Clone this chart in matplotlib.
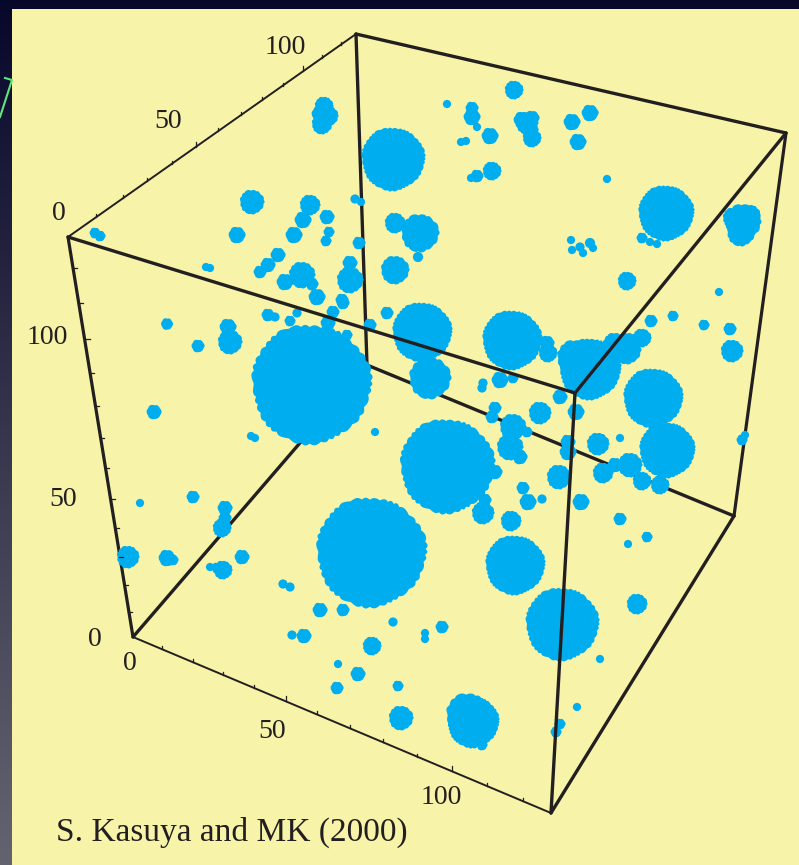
import matplotlib
matplotlib.use("Agg")
import matplotlib.pyplot as plt
import numpy as np
from matplotlib.path import Path

WIDTH, HEIGHT = 799, 865
DPI = 100

# cube corners, in image pixels
back_left = (68, 237)
back_top = (356, 34)
right_top = (786, 133)
front_top = (575, 393)
bottom_left = (133, 637)
bottom_front = (551, 813)
bottom_right = (734, 516)
hidden = (367, 365)

# tick positions along the three labelled edges
depth_tick_x = [96, 123, 147, 172, 196, 218, 241, 262, 283, 303, 322, 341]
depth_tick_y = [217, 198, 181, 164, 147, 131, 115, 100, 86, 71, 58, 45]
depth_major = [196, 303]
height_tick_x = [73, 79, 85, 90, 95, 100, 105, 110, 115, 119, 124, 128]
height_tick_y = [268, 303, 339, 373, 406, 438, 468, 499, 528, 557, 585, 612]
height_major = [339, 499]
width_tick_x = [162, 193, 223, 254, 286, 317, 350, 383, 417, 452, 487, 523]
width_tick_y = [649, 662, 675, 688, 701, 714, 728, 742, 757, 771, 786, 801]
width_major = [286, 452]

tick_labels = ["100", "50", "0", "100", "50", "0", "0", "50", "100"]
tick_label_x = [285, 168, 59, 47, 63, 95, 130, 272, 441]
tick_label_y = [47, 122, 213, 338, 500, 639, 664, 732, 797]
credit = "S. Kasuya and MK (2000)"

# lumps: centre and radius
blob_x = [95, 100, 324, 322, 328, 252, 237, 206, 210, 310, 303, 327, 294, 329, 326,
          355, 361, 359, 278, 268, 260, 302, 285, 312, 350, 350, 317, 342, 395, 395,
          420, 393, 398, 514, 447, 472, 472, 477, 490, 461, 466, 527, 522, 532, 532,
          572, 590, 578, 492, 477, 471, 607, 666, 642, 650, 657, 743, 741, 571, 572,
          580, 590, 593, 583, 627, 719, 418, 167, 228, 230, 198, 154, 268, 275, 290,
          297, 333, 328, 347, 343, 370, 311, 387, 251, 255, 375, 140, 193, 225, 225,
          222, 128, 167, 173, 242, 223, 210, 217, 283, 290, 371, 422, 430, 512, 548,
          547, 500, 513, 483, 482, 590, 627, 642, 651, 673, 704, 730, 732, 560, 576,
          540, 495, 492, 513, 510, 520, 527, 598, 620, 568, 568, 653, 667, 630, 615,
          603, 642, 660, 559, 742, 745, 447, 495, 483, 485, 523, 528, 542, 511, 515,
          581, 620, 647, 628, 637, 562, 600, 442, 425, 425, 320, 343, 292, 304, 372,
          338, 358, 337, 393, 398, 401, 473, 468, 482, 482, 560, 556, 577,
          320, 628, 615, 750, 733, 575, 530]
blob_y = [233, 236, 106, 124, 116, 202, 235, 267, 268, 205, 220, 217, 235, 232, 241,
          199, 202, 243, 255, 265, 272, 275, 282, 284, 263, 280, 297, 300, 270, 223,
          233, 159, 270, 90, 104, 108, 117, 127, 136, 142, 141, 123, 120, 118, 138,
          122, 113, 142, 171, 176, 178, 179, 213, 238, 242, 244, 222, 232, 240, 250,
          247, 243, 248, 253, 281, 292, 257, 324, 327, 342, 346, 412, 315, 317, 321,
          313, 312, 323, 335, 303, 325, 384, 313, 436, 438, 432, 503, 497, 508, 518,
          528, 557, 558, 560, 557, 570, 567, 568, 584, 587, 552, 332, 378, 340, 353,
          343, 380, 378, 383, 388, 369, 350, 338, 321, 316, 325, 329, 351, 397, 412,
          413, 408, 417, 427, 447, 457, 432, 444, 438, 442, 452, 398, 450, 465, 465,
          473, 481, 485, 477, 440, 435, 466, 472, 513, 500, 488, 502, 499, 521, 565,
          502, 519, 537, 544, 604, 624, 659, 627, 633, 639, 610, 610, 635, 636, 646,
          664, 674, 688, 622, 686, 718, 722, 715, 745, 738, 724, 732, 707,
          114, 345, 345, 215, 218, 358, 130]
blob_r = [5, 5, 9, 10, 10, 12, 8, 3.5, 3.5, 10, 8, 7, 8, 5, 5,
          4, 3.5, 6, 7, 7, 6, 13, 8, 6, 7, 13, 8, 6, 14, 10,
          19, 32, 8, 9, 3.5, 6, 8, 3.5, 8, 3.5, 3.5, 11, 8, 7, 9,
          8, 8, 8, 9, 6, 3.5, 3.5, 28, 5, 3.5, 3.5, 18, 14, 3.5, 3.5,
          4, 4.5, 3.5, 3.5, 9, 3.5, 4.5, 5.5, 8, 12, 6, 7, 6, 4, 5,
          4, 6, 7, 5, 6, 6, 61, 6, 3.5, 3.5, 3.5, 3.5, 6, 7, 6,
          9, 11, 8, 5, 7, 9, 3.5, 5, 4, 4, 56, 30, 21, 30, 9,
          7, 8, 5, 4, 4, 31, 14, 9, 6, 5, 5, 6, 11, 7, 8,
          11, 6, 6, 13, 13, 7, 5, 11, 3.5, 7, 8, 30, 28, 12, 7,
          10, 9, 9, 12, 5, 3.5, 48, 7, 11, 6, 6, 8, 4, 10, 30,
          8, 6, 5, 3.5, 10, 37, 3.5, 6, 3.5, 3.5, 7, 6, 4, 7, 9,
          3.5, 7, 6, 4, 5, 12, 26, 22, 5, 5, 5, 5, 3.5,
          8, 12, 12, 10, 10, 18, 8]

INK = "#231f20"
BLUE = "#00aeef"
PANEL = "#f7f3a8"


def edge(axis, start, end, width, zorder):
    axis.plot([start[0], end[0]], [start[1], end[1]], color=INK, linewidth=width,
              solid_capstyle="round", zorder=zorder)


def lobed_marker(lobes, depth):
    # bumpy outline so the lumps read as heaps of small dots
    theta = np.linspace(0, 2 * np.pi, lobes * 14 + 1)
    warped = theta + 0.05 * np.sin(5 * theta) + 0.03 * np.sin(11 * theta)
    bumps = 1 - depth + depth * np.abs(np.cos(lobes * warped / 2))
    radius = bumps * (1 + 0.02 * np.sin(3 * theta + 1) + 0.012 * np.sin(7 * theta))
    return Path(np.column_stack([radius * np.cos(theta), radius * np.sin(theta)]), closed=True)


fig = plt.figure(figsize=(WIDTH / DPI, HEIGHT / DPI), dpi=DPI)
ax = fig.add_axes([0, 0, 1, 1])

# slide background and the yellow panel
shade = np.linspace(0, 1, 256).reshape(-1, 1)
dark = np.array([0.03, 0.03, 0.17])
light = np.array([0.39, 0.39, 0.44])
ax.imshow(dark + (light - dark) * shade[..., None], extent=(0, WIDTH, HEIGHT, 0),
          aspect="auto", zorder=0)
ax.set_xlim(0, WIDTH)
ax.set_ylim(HEIGHT, 0)
ax.axis("off")
ax.add_patch(plt.Rectangle((12, 9), WIDTH - 12, HEIGHT - 9, facecolor=PANEL,
                           edgecolor="none", zorder=1))
ax.plot([0, 12, 5], [117, 80, 78], color="#5fe87a", linewidth=1.5, zorder=1)

# edges behind the lumps
edge(ax, back_top, hidden, 2.4, 2)
edge(ax, hidden, bottom_left, 2.4, 2)
edge(ax, hidden, bottom_right, 2.4, 2)
edge(ax, back_left, bottom_left, 2.3, 2)
edge(ax, right_top, bottom_right, 2.3, 2)

xs = np.array(blob_x)
ys = np.array(blob_y)
rs = np.array(blob_r)
sizes = (2 * (rs + 0.6) * 72 / DPI) ** 2
groups = [
    (rs >= 25, lobed_marker(37, 0.035)),
    ((rs >= 9) & (rs < 25), lobed_marker(13, 0.07)),
    ((rs >= 5) & (rs < 9), lobed_marker(6, 0.08)),
    (rs < 5, "o"),
]
for mask, marker in groups:
    ax.scatter(xs[mask], ys[mask], s=sizes[mask], marker=marker, color=BLUE,
               linewidths=0, zorder=3)

# edges in front of the lumps
edge(ax, back_top, right_top, 2.4, 4)
edge(ax, back_left, front_top, 2.4, 4)
edge(ax, right_top, front_top, 2.4, 4)
edge(ax, front_top, bottom_front, 2.4, 4)
edge(ax, bottom_right, bottom_front, 2.4, 4)
edge(ax, back_left, back_top, 1.4, 4)
edge(ax, bottom_left, bottom_front, 1.4, 4)

for x, y in zip(depth_tick_x, depth_tick_y, strict=True):
    size = 5 if x in depth_major else 3.5
    ax.plot([x, x], [y, y - size], color=INK, linewidth=0.9, zorder=4)
for x, y in zip(width_tick_x, width_tick_y, strict=True):
    size = 5 if x in width_major else 3.5
    ax.plot([x, x], [y, y - size], color=INK, linewidth=0.9, zorder=4)
for x, y in zip(height_tick_x, height_tick_y, strict=True):
    size = 5 if y in height_major else 3.5
    ax.plot([x, x + size], [y, y], color=INK, linewidth=0.9, zorder=4)

for label, x, y in zip(tick_labels, tick_label_x, tick_label_y, strict=True):
    ax.text(x, y, label, ha="center", va="center", fontsize=20,
            family="Liberation Serif", color=INK, zorder=5)
ax.text(56, 832, credit, ha="left", va="center", fontsize=24,
        family="Liberation Serif", color=INK, zorder=5)

fig.savefig("out.png", dpi=DPI)
plt.close(fig)
